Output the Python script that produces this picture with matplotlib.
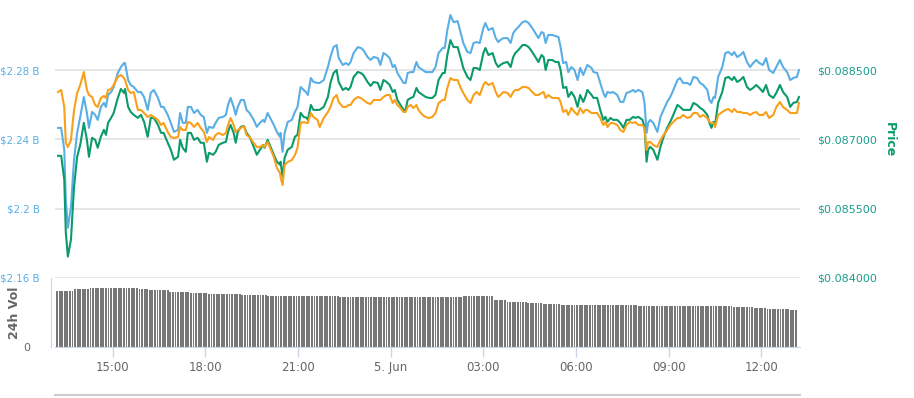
import matplotlib
matplotlib.use("Agg")
import matplotlib.pyplot as plt
import matplotlib.dates as mdates
from matplotlib.lines import Line2D
from matplotlib.ticker import FuncFormatter
import numpy as np
import pandas as pd

# ---------------------------------------------------------------------------
# Data (4-5 June 2019)
# ---------------------------------------------------------------------------
START = pd.Timestamp("2019-06-04 13:00")

# sample times, minutes after 13:00 on 4 June
minutes = [14, 20, 26, 29, 33, 39, 45, 51, 57, 64, 70, 74, 80, 86, 91, 97, 103, 107, 111, 117,
           122, 130, 136, 142, 144, 150, 155, 161, 169, 175, 181, 188, 194, 200, 208, 214, 219, 227, 233, 239,
           247, 251, 256, 262, 266, 272, 278, 285, 291, 297, 303, 307, 315, 320, 326, 334, 340, 344, 349, 355,
           359, 363, 369, 375, 380, 386, 394, 400, 406, 412, 415, 421, 425, 433, 439, 445, 446, 450, 454, 460,
           468, 474, 479, 485, 491, 497, 499, 505, 510, 518, 522, 530, 538, 543, 549, 555, 559, 567, 573, 578,
           582, 588, 596, 602, 607, 615, 621, 627, 635, 640, 646, 652, 658, 664, 668, 673, 679, 685, 689, 693,
           699, 704, 710, 714, 722, 728, 734, 741, 747, 753, 761, 765, 770, 776, 782, 790, 796, 801, 809, 815,
           821, 827, 833, 840, 844, 850, 858, 864, 869, 873, 879, 887, 893, 898, 902, 908, 916, 922, 928, 935,
           941, 947, 953, 957, 961, 966, 974, 980, 986, 990, 995, 1001, 1005, 1011, 1017, 1023, 1028, 1034, 1038, 1042,
           1050, 1054, 1061, 1067, 1073, 1077, 1081, 1087, 1092, 1100, 1106, 1112, 1118, 1124, 1131, 1135, 1141, 1149, 1153, 1157,
           1160, 1164, 1170, 1178, 1184, 1190, 1197, 1203, 1209, 1217, 1222, 1228, 1236, 1242, 1248, 1255, 1261, 1267, 1275, 1279,
           1283, 1287, 1290, 1296, 1304, 1310, 1316, 1323, 1327, 1333, 1339, 1345, 1352, 1358, 1364, 1370, 1376, 1383, 1389, 1395,
           1403, 1409, 1416, 1422, 1430, 1436, 1442, 1449, 1453]

# market cap, $M
mcap_musd = [2246.6, 2246.6, 2233.9, 2205.1, 2189.0, 2201.1, 2228.2, 2243.7, 2252.9, 2264.4,
             2255.2, 2246.6, 2255.8, 2254.1, 2251.2, 2258.7, 2261.0, 2258.7, 2265.6, 2267.3,
             2270.2, 2278.3, 2281.7, 2284.0, 2284.0, 2274.2, 2271.4, 2270.2, 2267.3, 2267.3,
             2264.4, 2257.0, 2266.8, 2268.5, 2263.9, 2258.7, 2258.7, 2254.1, 2249.5, 2244.3,
             2245.4, 2255.2, 2249.5, 2249.5, 2258.7, 2258.7, 2255.2, 2257.0, 2254.1, 2252.9,
             2243.7, 2247.2, 2246.6, 2249.5, 2252.4, 2252.9, 2254.1, 2259.8, 2263.9, 2258.7,
             2254.1, 2258.7, 2262.7, 2262.7, 2257.0, 2255.2, 2251.2, 2247.2, 2249.5, 2251.2,
             2250.0, 2255.2, 2252.9, 2248.3, 2244.3, 2241.4, 2243.7, 2232.8, 2243.7, 2250.0,
             2251.2, 2255.8, 2258.7, 2270.2, 2268.5, 2266.8, 2265.6, 2275.4, 2273.1, 2272.5,
             2272.5, 2274.2, 2281.7, 2287.5, 2293.2, 2294.4, 2286.9, 2282.9, 2284.0, 2282.9,
             2284.6, 2289.8, 2293.2, 2292.7, 2291.5, 2287.5, 2285.8, 2287.5, 2286.9, 2282.9,
             2289.8, 2288.6, 2286.9, 2281.7, 2282.9, 2278.3, 2275.4, 2272.5, 2272.5, 2278.3,
             2278.8, 2278.8, 2284.6, 2281.7, 2280.0, 2278.8, 2278.8, 2278.8, 2281.7, 2289.8,
             2292.7, 2292.7, 2303.0, 2311.7, 2307.6, 2308.2, 2301.3, 2295.6, 2290.4, 2289.8,
             2295.6, 2296.1, 2295.6, 2304.2, 2307.1, 2303.0, 2304.2, 2298.4, 2296.1,
             2297.3, 2298.4, 2298.4, 2295.6, 2301.3, 2303.0, 2304.8, 2307.6, 2308.2, 2307.1, 2304.2,
             2301.3, 2298.4, 2301.9, 2301.3, 2295.6, 2300.2, 2300.2, 2299.6, 2299.0, 2293.2,
             2284.0, 2284.6, 2278.8, 2281.7, 2280.0, 2274.2, 2281.2, 2277.1, 2280.0, 2282.9,
             2281.2, 2278.8, 2278.3, 2272.5, 2266.8, 2264.4, 2267.3, 2266.8, 2267.3, 2265.6,
             2261.6, 2261.6, 2266.8, 2267.3, 2268.5, 2267.3, 2268.5, 2267.3, 2261.0, 2243.7,
             2249.5, 2251.2, 2249.5, 2244.3, 2252.9, 2257.0, 2261.6, 2264.4, 2268.5, 2274.2,
             2275.4, 2272.5, 2272.5, 2271.4, 2276.0, 2275.4, 2272.5, 2271.4, 2268.5, 2262.7,
             2261.0, 2264.4, 2263.9, 2276.0, 2281.7, 2289.8, 2290.4, 2288.6, 2290.4, 2287.5,
             2288.6, 2290.4, 2284.6, 2281.7, 2284.0, 2285.8, 2284.0, 2282.9, 2286.9, 2280.0,
             2278.3, 2281.7, 2285.8, 2281.7, 2278.8, 2274.2, 2275.4, 2276.0, 2280.0]

# price, micro-USD
price_uusd = [86644, 86644, 86126, 84982, 84464, 84831, 85975, 86622, 86881, 87356,
              86989, 86622, 87033, 86989, 86817, 87054, 87205, 87097, 87356, 87464,
              87572, 87896, 88090, 88004, 88090, 87702, 87594, 87529, 87464, 87529,
              87378, 87054, 87464, 87464, 87313, 87140, 87140, 86925, 86774, 86558,
              86622, 86989, 86817, 86730, 87140, 87140, 86989, 87033, 86925, 86925,
              86515, 86709, 86666, 86730, 86881, 86925, 86946, 87162, 87313, 87140,
              86925, 87162, 87270, 87292, 87140, 87054, 86838, 86666, 86774, 86881,
              86817, 86989, 86881, 86666, 86515, 86450, 86515, 86191, 86601, 86774,
              86838, 87054, 87097, 87572, 87486, 87464, 87421, 87745, 87637, 87637,
              87637, 87702, 87917, 88219, 88435, 88500, 88241, 88068, 88112, 88068,
              88133, 88349, 88457, 88435, 88392, 88241, 88155, 88241, 88219, 88068,
              88284, 88241, 88176, 88025, 88068, 87853, 87745, 87637, 87637, 87853,
              87896, 87917, 88112, 88025, 87961, 87917, 87896, 87896, 87961, 88284,
              88435, 88435, 88824, 89147, 88996, 88996, 88759, 88543, 88349, 88284,
              88543, 88543, 88500, 88867, 88975, 88824, 88867, 88651, 88565,
              88608, 88651, 88673, 88565, 88781, 88867, 88932, 89040, 89040, 88996, 88888,
              88781, 88673, 88824, 88781, 88500, 88716, 88716, 88673, 88673, 88500,
              88112, 88133, 87917, 88025, 87917, 87702, 87961, 87809, 87917, 88068,
              87961, 87896, 87896, 87637, 87421, 87486, 87378, 87464, 87421, 87421,
              87356, 87248, 87421, 87421, 87486, 87464, 87486, 87421, 87270, 86515,
              86774, 86838, 86774, 86558, 86838, 87054, 87248, 87378, 87529, 87745,
              87702, 87637, 87637, 87637, 87788, 87745, 87680, 87637, 87529, 87356,
              87248, 87378, 87313, 87788, 88025, 88327, 88349, 88284, 88349, 88241,
              88284, 88349, 88133, 88068, 88112, 88176, 88112, 88025, 88176, 87961,
              87896, 88004, 88176, 88025, 87917, 87702, 87788, 87809, 87917]

# price in BTC, satoshi
price_sats = [1119, 1120, 1111.5, 1093.5, 1091.5, 1095, 1110, 1118.5, 1122.5, 1129,
              1120, 1117.5, 1116.5, 1112.5, 1111.5, 1116, 1117, 1116, 1120, 1120.5,
              1122.5, 1126.5, 1127.5, 1126, 1125, 1120, 1118.5, 1119, 1110, 1110,
              1108.5, 1106.5, 1107.5, 1106.5, 1105, 1102.5, 1103.5, 1099, 1096.5, 1096,
              1096.5, 1101.5, 1100, 1100, 1104, 1103.5, 1101.5, 1103.5, 1101, 1099,
              1094, 1096.5, 1095, 1097.5, 1098.5, 1097.5, 1098.5, 1102.5, 1106, 1102.5,
              1099, 1100, 1101, 1102, 1097.5, 1096.5, 1093.5, 1091.5, 1091.5, 1092.5,
              1091.5, 1094, 1091.5, 1086.5, 1081, 1078.5, 1076.5, 1072.5, 1082.5, 1084,
              1085, 1087.5, 1091, 1103.5, 1104, 1103.5, 1103.5, 1108.5, 1106.5, 1105,
              1101.5, 1106, 1109, 1111.5, 1116, 1117.5, 1114, 1111.5, 1111.5, 1112.5,
              1112.5, 1115, 1116.5, 1116, 1115, 1113.5, 1113, 1115, 1115, 1115,
              1116.5, 1117.5, 1117.5, 1113.5, 1115, 1112.5, 1111, 1109, 1109, 1111.5,
              1112.5, 1111, 1112.5, 1110, 1107.5, 1106.5, 1106, 1106.5, 1108.5, 1113.5,
              1115, 1115, 1121, 1126, 1125, 1125, 1121, 1118.5, 1115, 1113.5,
              1117.5, 1119, 1117.5, 1122.5, 1124, 1122.5, 1123.5, 1119, 1116.5,
              1117.5, 1119, 1118.5, 1116.5, 1119, 1120, 1120, 1121.5, 1121.5, 1121, 1119,
              1117.5, 1117.5, 1118.5, 1119, 1116, 1117.5, 1116, 1116, 1116, 1114,
              1109, 1110, 1107.5, 1111, 1109, 1107.5, 1111, 1108.5, 1110, 1110,
              1108.5, 1108.5, 1108.5, 1106, 1102.5, 1104, 1101.5, 1103.5, 1103.5, 1102.5,
              1100, 1099, 1102.5, 1104, 1103.5, 1104, 1102.5, 1102.5, 1101, 1090,
              1094, 1094, 1092.5, 1091.5, 1095, 1097.5, 1100, 1102.5, 1104, 1106,
              1106, 1107.5, 1106, 1106.5, 1108.5, 1108.5, 1106.5, 1107.5, 1106, 1104,
              1103.5, 1103.5, 1101.5, 1107.5, 1109, 1110, 1110.5, 1109, 1110.5, 1109,
              1109, 1108.5, 1108.5, 1107.5, 1108.5, 1109, 1107.5, 1107.5, 1109, 1106,
              1107.5, 1111.5, 1114, 1111.5, 1110, 1108.5, 1108.5, 1108.5, 1113.5]

# 24h volume ($M), 5-minute bars from 13:12; plateaus as (level, number of bars)
vol_levels = [113, 116, 119, 116, 114, 110, 108, 106, 104, 102, 101,
              102, 94, 91, 88, 86, 84, 82, 80, 78, 76, 74]
vol_runs = [7, 6, 19, 4, 8, 8, 7, 13, 10, 28, 48,
            12, 5, 8, 6, 7, 30, 37, 8, 5, 9, 3]
VOL_START = "2019-06-04 13:12"

mcap_ticks = [2.16, 2.20, 2.24, 2.28]
mcap_labels = ["$2.16 B", "$2.2 B", "$2.24 B", "$2.28 B"]
price_ticks = [0.084, 0.0855, 0.087, 0.0885]
price_labels = ["$0.084000", "$0.085500", "$0.087000", "$0.088500"]

BLUE = "#5aaee6"
GREEN = "#0a9a6c"
ORANGE = "#f9a01b"
TEAL = "#1a9e8c"
GRID = "#e6e6e6"
AXIS = "#ccd6eb"

# ---------------------------------------------------------------------------
times = START + pd.to_timedelta(minutes, unit="min")
mcap = np.array(mcap_musd) / 1000.0
price = np.array(price_uusd) * 1e-6
vol = np.repeat(vol_levels, vol_runs)
vol_times = pd.date_range(VOL_START, periods=len(vol), freq="5min")

W, H = 914, 398
fig = plt.figure(figsize=(W / 100, H / 100), dpi=100)
plt.rcParams["font.family"] = ["DejaVu Sans"]

# price panel spans pixel rows 0..280, gridlines at 70/139/209/278
ax = fig.add_axes([55 / W, 1 - 280 / H, 745 / W, 280 / H])
axr = ax.twinx()
axo = ax.twinx()

pp_l = 0.04 / 69.33
pp_r = 0.0015 / 69.33
ax.set_ylim(2.16 - 2 * pp_l, 2.28 + 70 * pp_l)
axr.set_ylim(0.084 - 2 * pp_r, 0.0885 + 70 * pp_r)
axo.set_ylim(1025, 1165)

ax.plot(times, mcap, color=BLUE, lw=1.5)
axr.plot(times, price, color=GREEN, lw=1.5)
axo.plot(times, price_sats, color=ORANGE, lw=1.5)

xmin = START + pd.Timedelta(minutes=8)
xmax = START + pd.Timedelta(minutes=1455)
for a in (ax, axr, axo):
    a.set_xlim(xmin, xmax)
    for s in a.spines.values():
        s.set_visible(False)
    a.tick_params(axis="x", bottom=False, labelbottom=False)

ax.set_axisbelow(True)
ax.set_yticks(mcap_ticks)
ax.set_yticklabels(mcap_labels)
ax.tick_params(axis="y", length=0, pad=11, labelsize=7.4, labelcolor=BLUE)
ax.grid(axis="y", color=GRID, lw=1.4)

axr.set_yticks(price_ticks)
axr.set_yticklabels(price_labels)
axr.tick_params(axis="y", length=0, pad=12, labelsize=8, labelcolor=TEAL)

axo.set_yticks([])

# volume panel
axv = fig.add_axes([55 / W, 1 - 347 / H, 745 / W, 69 / H])
axv.bar(vol_times, vol, width=5 / 1440 * 0.72, color="#777777", linewidth=0)
axv.set_xlim(xmin, xmax)
axv.set_ylim(0, 138)
axv.set_yticks([0])
axv.set_yticklabels(["0"])
axv.tick_params(axis="y", length=0, pad=15, labelsize=8, labelcolor="#666666")
for side in ("top", "right"):
    axv.spines[side].set_visible(False)
axv.spines["left"].set_color(AXIS)
axv.spines["left"].set_position(("outward", 3))
axv.spines["bottom"].set_color(AXIS)

axv.xaxis.set_major_locator(mdates.HourLocator(byhour=range(0, 24, 3)))


def fmt_time(x, pos):
    d = mdates.num2date(x)
    if d.hour == 0:
        return f"{d.day}. {d.strftime('%b')}"
    return d.strftime("%H:%M")


axv.xaxis.set_major_formatter(FuncFormatter(fmt_time))
axv.tick_params(axis="x", length=7, width=1, color=AXIS, labelsize=8.5,
                labelcolor="#666666", pad=3)

fig.text(15 / W, 1 - 313 / H, "24h Vol", rotation=90, ha="center", va="center",
         fontsize=9, fontweight="bold", color="#666666")
fig.text(889 / W, 1 - 140 / H, "Price", rotation=270, ha="center", va="center",
         fontsize=9, fontweight="bold", color=GREEN)

# navigator baseline
fig.add_artist(Line2D([55 / W, 800 / W], [1 - 395 / H, 1 - 395 / H],
                      color="#cccccc", lw=1.5))

fig.savefig("out.png", dpi=100)
